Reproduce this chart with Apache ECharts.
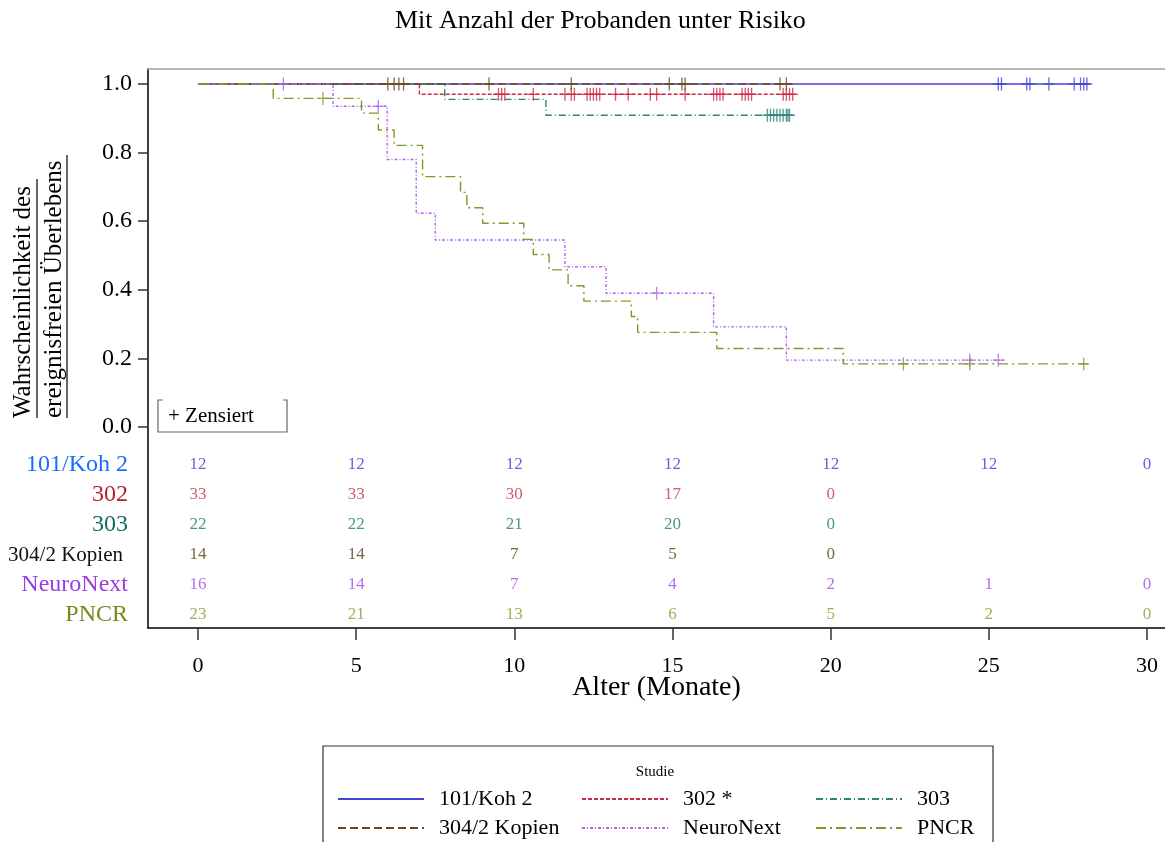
<!DOCTYPE html>
<html>
<head>
<meta charset="utf-8">
<script src="https://cdn.jsdelivr.net/npm/echarts@6/dist/echarts.min.js"></script>
<style>
  html, body { margin: 0; padding: 0; background: #fff; }
  #chart { width: 1165px; height: 842px; }
</style>
</head>
<body>
<div id="chart"></div>
<script>
// Kaplan-Meier Kurven (Zeit in Monaten, Überlebenswahrscheinlichkeit)
const KOH_T = [0, 28.2];
const KOH_S = [1, 1];
const KOH_C = [25.3, 25.4, 26.2, 26.3, 26.9, 27.7, 27.9, 28.0, 28.1];

const S302_T = [0, 7.0, 18.9];
const S302_S = [1, 0.97, 0.97];
const S302_C = [9.5, 9.6, 9.7, 10.6, 11.6, 11.8, 11.9, 12.3, 12.4, 12.5, 12.6, 12.7, 13.2, 13.6,
                14.3, 14.5, 15.4, 16.3, 16.4, 16.5, 16.6, 17.2, 17.3, 17.4, 17.5, 18.5, 18.6, 18.7, 18.8];

const S303_T = [0, 7.8, 11.0, 18.9];
const S303_S = [1, 0.955, 0.909, 0.909];
const S303_C = [18.0, 18.1, 18.2, 18.3, 18.4, 18.5, 18.6, 18.65, 18.7];

const S304_T = [0, 18.8];
const S304_S = [1, 1];
const S304_C = [6.0, 6.2, 6.35, 6.5, 9.2, 11.8, 14.9, 15.3, 15.4, 18.4, 18.6];

const NEURO_T = [0, 4.27, 5.98, 6.9, 7.5, 11.6, 12.9, 16.3, 18.6, 25.5];
const NEURO_S = [1, 0.935, 0.78, 0.623, 0.545, 0.467, 0.39, 0.292, 0.195, 0.195];
const NEURO_C = [2.7, 5.7, 14.5, 24.4, 25.3];

const PNCR_T = [0, 2.38, 5.17, 5.7, 6.2, 7.1, 8.3, 8.5, 9.0, 10.3, 10.6, 11.1, 11.7, 12.2, 13.7, 13.9, 16.4, 20.4, 28.2];
const PNCR_S = [1, 0.958, 0.915, 0.866, 0.821, 0.73, 0.684, 0.639, 0.594, 0.547, 0.503, 0.458, 0.412, 0.367, 0.322, 0.276, 0.229, 0.184, 0.184];
const PNCR_C = [3.95, 22.3, 24.4, 28.0];

// Anzahl unter Risiko
const RISK_TIMES = [0, 5, 10, 15, 20, 25, 30];
const RISK_ROWS = ['101/Koh 2', '302', '303', '304/2 Kopien', 'NeuroNext', 'PNCR'];
const RISK_KOH = [12, 12, 12, 12, 12, 12, 0];
const RISK_302 = [33, 33, 30, 17, 0, null, null];
const RISK_303 = [22, 22, 21, 20, 0, null, null];
const RISK_304 = [14, 14, 7, 5, 0, null, null];
const RISK_NEURO = [16, 14, 7, 4, 2, 1, 0];
const RISK_PNCR = [23, 21, 13, 6, 5, 2, 0];

const X_TICKS = [0, 5, 10, 15, 20, 25, 30];
const Y_TICKS = [0, 0.2, 0.4, 0.6, 0.8, 1.0];

const FONT = "'Liberation Serif', 'Times New Roman', serif";
const PLUS = 'path://M4.4,0h1.2v12h-1.2zM0,5.4h10v1.2h-10z';

const studien = [
  {name: '101/Koh 2', t: KOH_T, s: KOH_S, c: KOH_C, color: '#4545d8', type: 'solid', risk: RISK_KOH, num: '#3b3bdd'},
  {name: '302 *', t: S302_T, s: S302_S, c: S302_C, color: '#cc2a44', type: [4, 2], risk: RISK_302, num: '#c43349'},
  {name: '303', t: S303_T, s: S303_S, c: S303_C, color: '#2a8578', type: [7, 3, 1, 3], risk: RISK_303, num: '#1c7a6a'},
  {name: '304/2 Kopien', t: S304_T, s: S304_S, c: S304_C, color: '#6b4820', type: [8, 4], risk: RISK_304, num: '#5e3c12'},
  {name: 'NeuroNext', t: NEURO_T, s: NEURO_S, c: NEURO_C, color: '#b263f0', type: [3, 2, 1, 2], risk: RISK_NEURO, num: '#a14ee6'},
  {name: 'PNCR', t: PNCR_T, s: PNCR_S, c: PNCR_C, color: '#87962a', type: [10, 4, 2, 4], risk: RISK_PNCR, num: '#8a9a30'}
];

function survAt(st, x) {
  let v = st.s[0];
  for (let i = 0; i < st.t.length; i++) {
    if (st.t[i] <= x) v = st.s[i];
  }
  return v;
}

const X_MIN = -1.58, X_MAX = 30.57;

let series = [];
studien.forEach((st, k) => {
  series.push({
    name: st.name,
    type: 'line',
    step: 'end',
    symbol: 'none',
    xAxisIndex: 0, yAxisIndex: 0,
    lineStyle: {color: st.color, width: 1.4, type: st.type},
    itemStyle: {color: st.color},
    data: st.t.map((x, i) => [x, st.s[i]]),
    z: 2
  });
  series.push({
    name: 'zensiert ' + k,
    type: 'scatter',
    symbol: PLUS,
    symbolSize: [11, 13],
    xAxisIndex: 0, yAxisIndex: 0,
    itemStyle: {color: st.color},
    data: st.c.map(x => [x, survAt(st, x)]),
    z: 3
  });
  series.push({
    name: 'risiko ' + k,
    type: 'scatter',
    xAxisIndex: 2, yAxisIndex: 1,
    symbolSize: 1,
    itemStyle: {color: 'rgba(0,0,0,0)'},
    label: {
      show: true, position: 'inside',
      formatter: p => String(p.value[2]),
      color: st.num, fontSize: 17, fontFamily: FONT
    },
    data: RISK_TIMES.map((x, i) => [x, RISK_ROWS[k], st.risk[i]]).filter(d => d[2] !== null)
  });
});

const rowKey = ['k', 'r', 't', 'b', 'n', 'p'];

let chart = echarts.init(document.getElementById('chart'), null, {renderer: 'canvas'});
chart.setOption({
  animation: false,
  backgroundColor: '#fff',
  title: {
    text: 'Mit Anzahl der Probanden unter Risiko',
    left: 390, top: 3,
    textStyle: {fontFamily: FONT, fontSize: 26, fontWeight: 'normal', color: '#000'}
  },
  grid: [
    {left: 148, right: 0, top: 69, bottom: 214},
    {left: 148, right: 0, top: 450, height: 180}
  ],
  xAxis: [
    {
      gridIndex: 0, type: 'value', min: X_MIN, max: X_MAX,
      name: 'Alter (Monate)', nameLocation: 'middle', nameGap: 46, nameMoveOverlap: false,
      nameTextStyle: {fontFamily: FONT, fontSize: 28, color: '#000'},
      axisLine: {show: true, onZero: false, lineStyle: {color: '#000', width: 1.5}},
      axisTick: {show: true, length: 12, customValues: X_TICKS, lineStyle: {color: '#333', width: 1.5}},
      axisLabel: {customValues: X_TICKS, margin: 27, fontFamily: FONT, fontSize: 22, color: '#000'},
      splitLine: {show: false}
    },
    {
      gridIndex: 0, type: 'value', min: X_MIN, max: X_MAX, position: 'top',
      axisLine: {show: true, onZero: false, lineStyle: {color: '#a0a0a0', width: 1.5}},
      axisTick: {show: false}, axisLabel: {show: false}, splitLine: {show: false}
    },
    {
      gridIndex: 1, type: 'value', min: X_MIN, max: X_MAX, show: false
    }
  ],
  yAxis: [
    {
      gridIndex: 0, type: 'value', min: -0.586, max: 1.0437,
      axisLine: {show: true, onZero: false, lineStyle: {color: '#000', width: 1.5}},
      axisTick: {show: true, length: 10, customValues: Y_TICKS, lineStyle: {color: '#333', width: 1.5}},
      axisLabel: {customValues: Y_TICKS, margin: 16, fontFamily: FONT, fontSize: 24, color: '#000',
                  formatter: v => v.toFixed(1)},
      splitLine: {show: false}
    },
    {
      gridIndex: 1, type: 'category', data: RISK_ROWS, inverse: true,
      axisLine: {show: false}, axisTick: {show: false}, splitLine: {show: false},
      axisLabel: {
        margin: 20,
        formatter: (v, i) => '{' + rowKey[i] + '|' + v + '}',
        rich: {
          k: {color: '#1a6cff', fontSize: 24, fontFamily: FONT},
          r: {color: '#b81d36', fontSize: 24, fontFamily: FONT},
          t: {color: '#0b6e60', fontSize: 24, fontFamily: FONT},
          b: {color: '#111111', fontSize: 21, fontFamily: FONT, padding: [0, 5, 0, 0]},
          n: {color: '#9b3de0', fontSize: 24, fontFamily: FONT},
          p: {color: '#7a8a1a', fontSize: 24, fontFamily: FONT}
        }
      }
    }
  ],
  legend: [
    {left: 337, data: ['101/Koh 2', '304/2 Kopien']},
    {left: 581, data: ['302 *', 'NeuroNext']},
    {left: 815, data: ['303', 'PNCR']}
  ].map(l => Object.assign(l, {
    top: 788, orient: 'vertical', padding: 0,
    itemWidth: 86, itemHeight: 22, itemGap: 7, selectedMode: false,
    itemStyle: {opacity: 0},
    textStyle: {fontFamily: FONT, fontSize: 22, color: '#000', padding: [0, 0, 0, 10]}
  })),
  graphic: [
    // Achsentitel (zweizeilig, unterstrichen)
    {type: 'text', x: 36, y: 418, rotation: Math.PI / 2,
     style: {text: 'Wahrscheinlichkeit des', fontFamily: FONT, fontSize: 25, fill: '#000', align: 'left', verticalAlign: 'bottom'}},
    {type: 'line', shape: {x1: 37, y1: 418, x2: 37, y2: 179}, style: {stroke: '#000', lineWidth: 1.2}},
    {type: 'text', x: 67, y: 418, rotation: Math.PI / 2,
     style: {text: 'ereignisfreien Überlebens', fontFamily: FONT, fontSize: 25, fill: '#000', align: 'left', verticalAlign: 'bottom'}},
    {type: 'line', shape: {x1: 67, y1: 418, x2: 67, y2: 155}, style: {stroke: '#000', lineWidth: 1.2}},
    // Zensiert-Kasten
    {type: 'polyline', shape: {points: [[163, 400], [158, 400], [158, 432], [287, 432], [287, 400], [283, 400]]},
     style: {stroke: '#666', lineWidth: 1.2, fill: null}},
    {type: 'text', x: 168, y: 416,
     style: {text: '+ Zensiert', fontFamily: FONT, fontSize: 21, fill: '#000', align: 'left', verticalAlign: 'middle'}},
    // Legendenrahmen
    {type: 'rect', shape: {x: 323, y: 746, width: 670, height: 120},
     style: {stroke: '#333', lineWidth: 1.2, fill: null}},
    {type: 'text', x: 655, y: 772,
     style: {text: 'Studie', fontFamily: FONT, fontSize: 15, fill: '#000', align: 'center', verticalAlign: 'middle'}}
  ],
  series: series
});
</script>
</body>
</html>
